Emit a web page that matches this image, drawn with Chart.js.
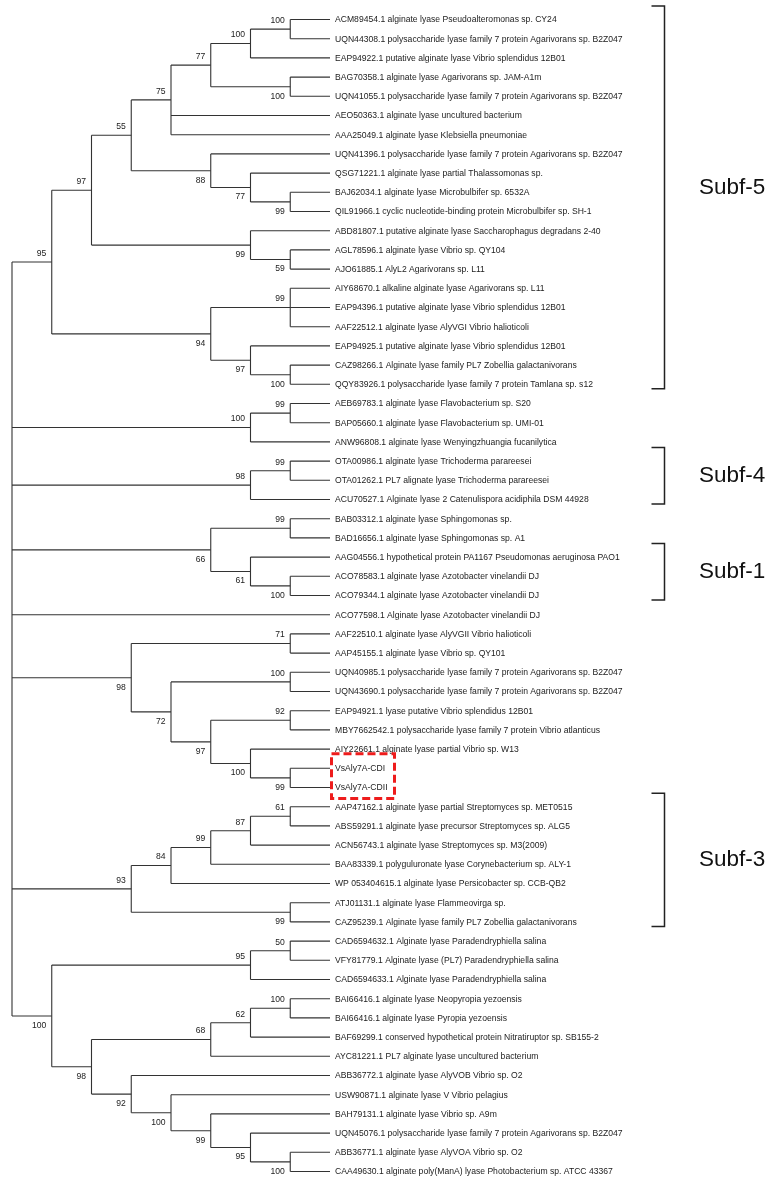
<!DOCTYPE html>
<html>
<head>
<meta charset="utf-8">
<script src="https://cdn.jsdelivr.net/npm/chart.js@4.4.0/dist/chart.umd.min.js"></script>
<style>
html, body { margin: 0; padding: 0; background: #fff; }
canvas { display: block; }
</style>
</head>
<body>
<canvas id="tree" width="773" height="1186"></canvas>
<script>
// leaf labels, top to bottom
const leafNames = [
  "ACM89454.1 alginate lyase Pseudoalteromonas sp. CY24",
  "UQN44308.1 polysaccharide lyase family 7 protein Agarivorans sp. B2Z047",
  "EAP94922.1 putative alginate lyase Vibrio splendidus 12B01",
  "BAG70358.1 alginate lyase Agarivorans sp. JAM-A1m",
  "UQN41055.1 polysaccharide lyase family 7 protein Agarivorans sp. B2Z047",
  "AEO50363.1 alginate lyase uncultured bacterium",
  "AAA25049.1 alginate lyase Klebsiella pneumoniae",
  "UQN41396.1 polysaccharide lyase family 7 protein Agarivorans sp. B2Z047",
  "QSG71221.1 alginate lyase partial Thalassomonas sp.",
  "BAJ62034.1 alginate lyase Microbulbifer sp. 6532A",
  "QIL91966.1 cyclic nucleotide-binding protein Microbulbifer sp. SH-1",
  "ABD81807.1 putative alginate lyase Saccharophagus degradans 2-40",
  "AGL78596.1 alginate lyase Vibrio sp. QY104",
  "AJO61885.1 AlyL2 Agarivorans sp. L11",
  "AIY68670.1 alkaline alginate lyase Agarivorans sp. L11",
  "EAP94396.1 putative alginate lyase Vibrio splendidus 12B01",
  "AAF22512.1 alginate lyase AlyVGI Vibrio halioticoli",
  "EAP94925.1 putative alginate lyase Vibrio splendidus 12B01",
  "CAZ98266.1 Alginate lyase family PL7 Zobellia galactanivorans",
  "QQY83926.1 polysaccharide lyase family 7 protein Tamlana sp. s12",
  "AEB69783.1 alginate lyase Flavobacterium sp. S20",
  "BAP05660.1 alginate lyase Flavobacterium sp. UMI-01",
  "ANW96808.1 alginate lyase Wenyingzhuangia fucanilytica",
  "OTA00986.1 alginate lyase Trichoderma parareesei",
  "OTA01262.1 PL7 alignate lyase Trichoderma parareesei",
  "ACU70527.1 Alginate lyase 2 Catenulispora acidiphila DSM 44928",
  "BAB03312.1 alginate lyase Sphingomonas sp.",
  "BAD16656.1 alginate lyase Sphingomonas sp. A1",
  "AAG04556.1 hypothetical protein PA1167 Pseudomonas aeruginosa PAO1",
  "ACO78583.1 alginate lyase Azotobacter vinelandii DJ",
  "ACO79344.1 alginate lyase Azotobacter vinelandii DJ",
  "ACO77598.1 Alginate lyase Azotobacter vinelandii DJ",
  "AAF22510.1 alginate lyase AlyVGII Vibrio halioticoli",
  "AAP45155.1 alginate lyase Vibrio sp. QY101",
  "UQN40985.1 polysaccharide lyase family 7 protein Agarivorans sp. B2Z047",
  "UQN43690.1 polysaccharide lyase family 7 protein Agarivorans sp. B2Z047",
  "EAP94921.1 lyase putative Vibrio splendidus 12B01",
  "MBY7662542.1 polysaccharide lyase family 7 protein Vibrio atlanticus",
  "AIY22661.1 alginate lyase partial Vibrio sp. W13",
  "VsAly7A-CDI",
  "VsAly7A-CDII",
  "AAP47162.1 alginate lyase partial Streptomyces sp. MET0515",
  "ABS59291.1 alginate lyase precursor Streptomyces sp. ALG5",
  "ACN56743.1 alginate lyase Streptomyces sp. M3(2009)",
  "BAA83339.1 polyguluronate lyase Corynebacterium sp. ALY-1",
  "WP 053404615.1 alginate lyase Persicobacter sp. CCB-QB2",
  "ATJ01131.1 alginate lyase Flammeovirga sp.",
  "CAZ95239.1 Alginate lyase family PL7 Zobellia galactanivorans",
  "CAD6594632.1 Alginate lyase Paradendryphiella salina",
  "VFY81779.1 Alginate lyase (PL7) Paradendryphiella salina",
  "CAD6594633.1 Alginate lyase Paradendryphiella salina",
  "BAI66416.1 alginate lyase Neopyropia yezoensis",
  "BAI66416.1 alginate lyase Pyropia yezoensis",
  "BAF69299.1 conserved hypothetical protein Nitratiruptor sp. SB155-2",
  "AYC81221.1 PL7 alginate lyase uncultured bacterium",
  "ABB36772.1 alginate lyase AlyVOB Vibrio sp. O2",
  "USW90871.1 alginate lyase V Vibrio pelagius",
  "BAH79131.1 alginate lyase Vibrio sp. A9m",
  "UQN45076.1 polysaccharide lyase family 7 protein Agarivorans sp. B2Z047",
  "ABB36771.1 alginate lyase AlyVOA Vibrio sp. O2",
  "CAA49630.1 alginate poly(ManA) lyase Photobacterium sp. ATCC 43367"
];

// internal nodes: id, children (leaf index or node id), bootstrap, label above/below branch
const nodes = [
  ["a1", [0, 1], 100, "up"],
  ["a2", ["a1", 2], 100, "up"],
  ["a3", [3, 4], 100, "down"],
  ["a4", ["a2", "a3"], 77, "up"],
  ["a5", ["a4", 5, 6], 75, "up"],
  ["a6", [9, 10], 99, "down"],
  ["a7", [8, "a6"], 77, "down"],
  ["a8", [7, "a7"], 88, "down"],
  ["a9", ["a5", "a8"], 55, "up"],
  ["a10", [12, 13], 59, "down"],
  ["a11", [11, "a10"], 99, "down"],
  ["a12", ["a9", "a11"], 97, "up"],
  ["a13", [14, 15, 16], 99, "up"],
  ["a14", [18, 19], 100, "down"],
  ["a15", [17, "a14"], 97, "down"],
  ["a16", ["a13", "a15"], 94, "down"],
  ["a17", ["a12", "a16"], 95, "up"],
  ["b1", [20, 21], 99, "up"],
  ["b2", ["b1", 22], 100, "up"],
  ["c1", [23, 24], 99, "up"],
  ["c2", ["c1", 25], 98, "up"],
  ["d1", [26, 27], 99, "up"],
  ["d2", [29, 30], 100, "down"],
  ["d3", [28, "d2"], 61, "down"],
  ["d4", ["d1", "d3"], 66, "down"],
  ["e1", [32, 33], 71, "up"],
  ["e2", [34, 35], 100, "up"],
  ["e3", [36, 37], 92, "up"],
  ["e4", [39, 40], 99, "down"],
  ["e5", [38, "e4"], 100, "down"],
  ["e6", ["e3", "e5"], 97, "down"],
  ["e7", ["e2", "e6"], 72, "down"],
  ["e8", ["e1", "e7"], 98, "down"],
  ["f1", [41, 42], 61, "up"],
  ["f2", ["f1", 43], 87, "up"],
  ["f3", ["f2", 44], 99, "up"],
  ["f4", ["f3", 45], 84, "up"],
  ["f5", [46, 47], 99, "down"],
  ["f6", ["f4", "f5"], 93, "up"],
  ["g1", [48, 49], 50, "up"],
  ["g2", ["g1", 50], 95, "up"],
  ["g3", [51, 52], 100, "up"],
  ["g4", ["g3", 53], 62, "up"],
  ["g5", ["g4", 54], 68, "up"],
  ["g6", [59, 60], 100, "down"],
  ["g7", [58, "g6"], 95, "down"],
  ["g8", [57, "g7"], 99, "down"],
  ["g9", [56, "g8"], 100, "down"],
  ["g10", [55, "g9"], 92, "down"],
  ["g11", ["g5", "g10"], 98, "down"],
  ["g12", ["g2", "g11"], 100, "down"]
];

const rootChildren = ["a17", "b2", "c2", "d4", 31, "e8", "f6", "g12"];

// subfamily brackets: label, first leaf, last leaf
const groups = [
  ["Subf-5", 0, 19],
  ["Subf-4", 23, 25],
  ["Subf-1", 28, 30],
  ["Subf-3", 41, 47]
];

// leaves inside the red dashed box
const highlight = [39, 40];

// ---- layout (cladogram: tips aligned, x = depth level) ----
const tree = { root: { children: rootChildren, support: null } };
nodes.forEach(n => { tree[n[0]] = { children: n[1], support: n[2], side: n[3] }; });

const hMemo = {};
function height(c) {
  if (typeof c === "number") return 0;
  if (hMemo[c] === undefined) {
    hMemo[c] = 1 + Math.max(...tree[c].children.map(height));
  }
  return hMemo[c];
}
function yOf(c) {
  if (typeof c === "number") return c;
  const ch = tree[c].children;
  return (yOf(ch[0]) + yOf(ch[ch.length - 1])) / 2;
}
const maxH = height("root");
function xOf(c) { return maxH - height(c); }

const segments = [];
Object.keys(tree).forEach(id => {
  const ch = tree[id].children;
  const x = xOf(id);
  segments.push([{ x: x, y: yOf(ch[0]) }, { x: x, y: yOf(ch[ch.length - 1]) }]);
  ch.forEach(c => {
    segments.push([{ x: x, y: yOf(c) }, { x: xOf(c), y: yOf(c) }]);
  });
});

// pixel mapping of the scales
const ROOT_PX = 12, TIP_PX = 330, TOP_PX = 19.5, ROW_PX = 19.2;
const levelPx = (TIP_PX - ROOT_PX) / maxH;
const xMin = -ROOT_PX / levelPx;
const xMax = xMin + 773 / levelPx;
const yMin = -TOP_PX / ROW_PX;
const yMax = yMin + 1186 / ROW_PX;

const FONT = "'Liberation Sans', Arial, sans-serif";
// the big Subf-5 label sits a little above its bracket centre
const groupLabelShift = { "Subf-5": -10 };

const labelPlugin = {
  id: "treeLabels",
  afterDatasetsDraw(chart) {
    const ctx = chart.ctx;
    const xs = chart.scales.x, ys = chart.scales.y;
    const tipX = xs.getPixelForValue(maxH);
    ctx.save();

    // leaf names
    ctx.fillStyle = "#222";
    ctx.font = "8.6px " + FONT;
    ctx.textAlign = "left";
    ctx.textBaseline = "middle";
    leafNames.forEach((name, i) => {
      ctx.fillText(name, tipX + 5, ys.getPixelForValue(i) + 0.5);
    });

    // bootstrap values
    ctx.textAlign = "right";
    nodes.forEach(n => {
      const id = n[0];
      const px = xs.getPixelForValue(xOf(id));
      const py = ys.getPixelForValue(yOf(id));
      ctx.fillText(String(n[2]), px - 5.5, n[3] === "up" ? py - 8.5 : py + 9.5);
    });

    // subfamily brackets
    ctx.strokeStyle = "#222";
    ctx.lineWidth = 1.5;
    ctx.fillStyle = "#111";
    ctx.font = "22.5px " + FONT;
    ctx.textAlign = "left";
    groups.forEach(g => {
      const top = ys.getPixelForValue(g[1]) - 13.5;
      const bot = ys.getPixelForValue(g[2]) + 4.5;
      ctx.beginPath();
      ctx.moveTo(651.5, top);
      ctx.lineTo(664.5, top);
      ctx.lineTo(664.5, bot);
      ctx.lineTo(651.5, bot);
      ctx.stroke();
      ctx.fillText(g[0], 699, (top + bot) / 2 + (groupLabelShift[g[0]] || 0));
    });

    // red dashed box
    const bTop = ys.getPixelForValue(highlight[0]) - 14.5;
    const bBot = ys.getPixelForValue(highlight[highlight.length - 1]) + 11;
    ctx.strokeStyle = "#ee1c1c";
    ctx.lineWidth = 3;
    ctx.setLineDash([8, 4]);
    ctx.strokeRect(tipX + 1.5, bTop, 63, bBot - bTop);
    ctx.restore();
  }
};

new Chart(document.getElementById("tree"), {
  type: "scatter",
  data: {
    datasets: segments.map(s => ({
      data: s,
      showLine: true,
      borderColor: "#333",
      borderWidth: 1.1,
      pointRadius: 0,
      pointHoverRadius: 0
    }))
  },
  options: {
    responsive: false,
    animation: false,
    layout: { padding: 0 },
    plugins: {
      legend: { display: false },
      tooltip: { enabled: false }
    },
    scales: {
      x: { type: "linear", display: false, min: xMin, max: xMax },
      y: { type: "linear", display: false, reverse: true, min: yMin, max: yMax }
    }
  },
  plugins: [labelPlugin]
});
</script>
</body>
</html>
